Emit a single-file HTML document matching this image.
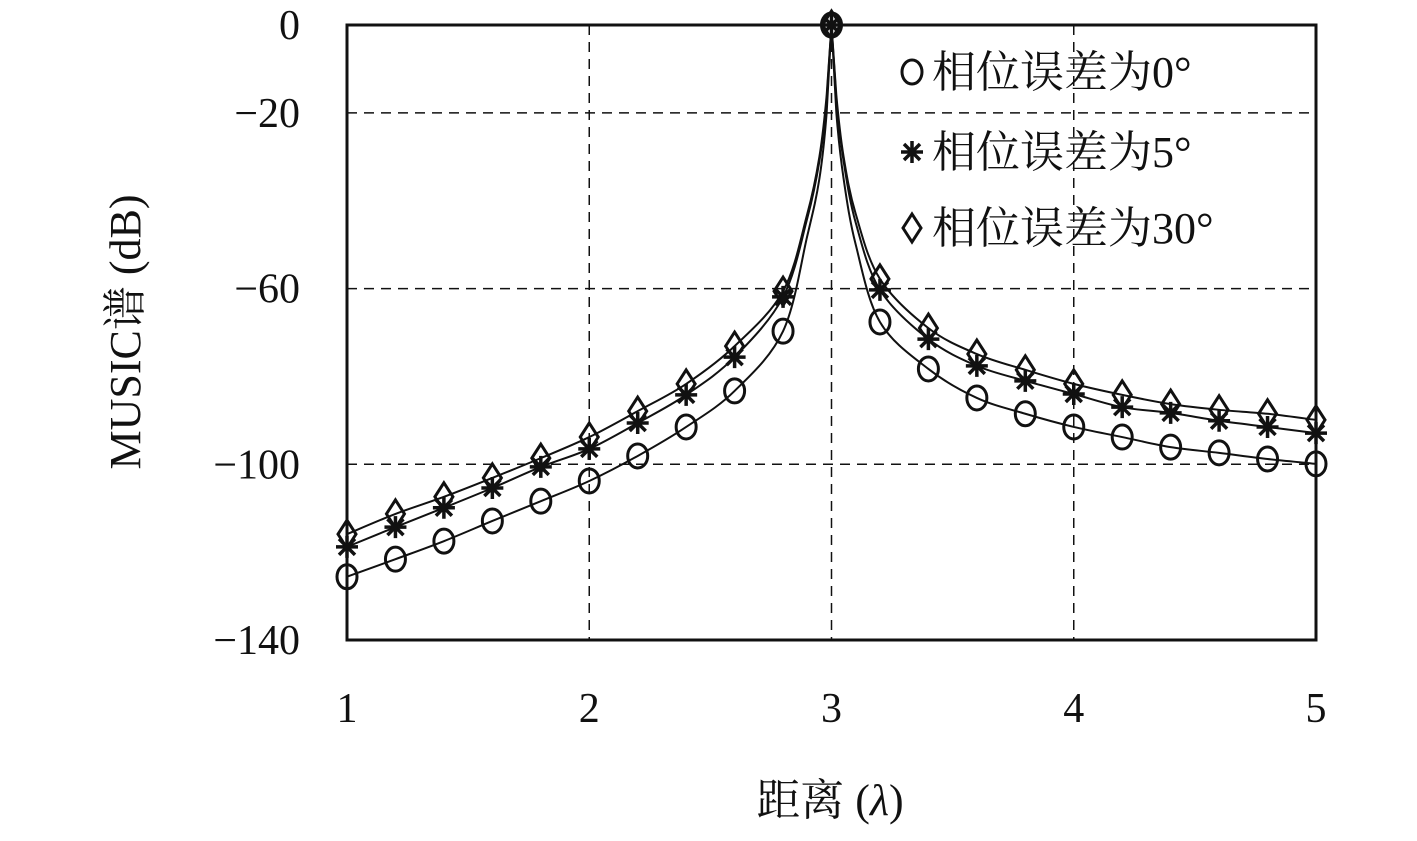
<!DOCTYPE html>
<html><head><meta charset="utf-8"><style>
body{margin:0;background:#fff}
svg text{font-family:"Liberation Serif","Noto Serif CJK SC",serif;fill:#111}
</style></head><body>
<svg id="chart" width="1417" height="836" xmlns="http://www.w3.org/2000/svg">
<g id="grid"></g>
<g id="series"></g>
<rect x="347" y="25" width="969" height="615" fill="none" stroke="#111" stroke-width="3"/>
<g id="ticks"></g>
<text x="830" y="815" font-size="44" text-anchor="middle">距离 (<tspan font-style="italic">λ</tspan>)</text>
<text transform="translate(140,332) rotate(-90)" font-size="44" text-anchor="middle">MUSIC谱 (dB)</text>
<g id="legend"></g>
</svg>
<script>
const xTicks=[1,2,3,4,5];
const yTicks=[0,-20,-60,-100,-140];
const yTickLabels=["0","−20","−60","−100","−140"];
const markerX=[1,1.2,1.4,1.6,1.8,2,2.2,2.4,2.6,2.8,3,3.2,3.4,3.6,3.8,4,4.2,4.4,4.6,4.8,5];
const err0=[-125.6,-121.6,-117.5,-112.9,-108.4,-103.8,-98.1,-91.5,-83.3,-69.7,0,-67.6,-78.3,-84.9,-88.5,-91.5,-93.8,-96.1,-97.4,-98.8,-99.9];
const err5=[-118.8,-114.3,-109.9,-105.4,-100.6,-96.5,-90.6,-84.2,-75.6,-61.9,0,-60.3,-71.5,-77.6,-81.0,-84.0,-87.0,-88.3,-90.1,-91.5,-92.9];
const err30=[-115.9,-111.3,-107.4,-103.1,-98.6,-93.8,-87.9,-81.7,-73.1,-60.6,0,-57.8,-69.0,-74.9,-78.5,-81.7,-84.2,-86.3,-87.6,-88.5,-89.9];
const peakX=[2.9,2.95,2.98,3.02,3.05,3.1];
const peak0=[-48,-35,-20,-20,-35,-50];
const peak5=[-44,-31,-17,-17,-31,-45];
const peak30=[-43,-30,-16,-16,-30,-43];
const seriesNames=["相位误差为0°","相位误差为5°","相位误差为30°"];

const X=v=>347+(v-1)*(1316-347)/4;
const Y=v=>25+(-v)*(640-25)/140;
const NS="http://www.w3.org/2000/svg";
function mk(tag,attrs,parent){const e=document.createElementNS(NS,tag);for(const k in attrs)e.setAttribute(k,attrs[k]);parent.appendChild(e);return e;}
const grid=document.getElementById('grid'),ticks=document.getElementById('ticks'),ser=document.getElementById('series'),leg=document.getElementById('legend');
xTicks.forEach(t=>{
 if(t>1&&t<5){const l=mk('line',{x1:X(t),x2:X(t),y1:25,y2:640,stroke:'#111','stroke-width':1.5,'stroke-dasharray':'10,7'},grid);
 
 }
 const tx=mk('text',{x:X(t),y:722,'font-size':42,'text-anchor':'middle'},ticks);tx.textContent=t;
 
 
});
yTicks.forEach((t,i)=>{
 if(t<0&&t>-140){const l=mk('line',{x1:347,x2:1316,y1:Y(t),y2:Y(t),stroke:'#111','stroke-width':1.5,'stroke-dasharray':'10,7'},grid);
 
 }
 const tx=mk('text',{x:300,y:Y(t)+14,'font-size':42,'text-anchor':'end'},ticks);tx.textContent=yTickLabels[i];
 
 
});
function curve(vals,pk){
 let pts=markerX.map((x,i)=>[x,vals[i]]).concat(peakX.map((x,i)=>[x,pk[i]])).sort((a,b)=>a[0]-b[0]).map(p=>[X(p[0]),Y(p[1])]);
 let d='M'+pts[0][0]+','+pts[0][1];
 for(let i=0;i<pts.length-1;i++){
  const p0=pts[i-1]||pts[i],p1=pts[i],p2=pts[i+1],p3=pts[i+2]||p2;
  const sharp=Math.abs(p1[0]-X(3))<1||Math.abs(p2[0]-X(3))<1;
  const k=sharp?0:1/6;
  d+=` C${p1[0]+(p2[0]-p0[0])*k},${p1[1]+(p2[1]-p0[1])*k} ${p2[0]-(p3[0]-p1[0])*k},${p2[1]-(p3[1]-p1[1])*k} ${p2[0]},${p2[1]}`;
 }
 return d;
}
function marker(type,cx,cy,parent){
 let g;
 if(type===0)g=mk('ellipse',{cx,cy,rx:10,ry:12,fill:'none',stroke:'#111','stroke-width':3},parent);
 else if(type===1){g=mk('path',{d:`M${cx-11},${cy}H${cx+11}M${cx},${cy-11}V${cy+11}M${cx-8},${cy-8}L${cx+8},${cy+8}M${cx-8},${cy+8}L${cx+8},${cy-8}`,stroke:'#111','stroke-width':3.5,fill:'none'},parent);}
 else g=mk('path',{d:`M${cx},${cy-14}L${cx+9},${cy}L${cx},${cy+14}L${cx-9},${cy}Z`,fill:'none',stroke:'#111','stroke-width':3},parent);
 return g;
}
[[err0,peak0],[err5,peak5],[err30,peak30]].forEach((s,si)=>{
 const p=mk('path',{d:curve(s[0],s[1]),fill:'none',stroke:'#111','stroke-width':2},ser);
 
 
 markerX.forEach((x,i)=>{
  const m=marker(si,X(x),Y(s[0][i]),ser);
  
  
 });
});
const legY=[72,152,228];
seriesNames.forEach((n,i)=>{
 const m=marker(i,912,legY[i],leg);
 
 
 const t=mk('text',{x:932,y:legY[i]+15,'font-size':44},leg);t.textContent=n;
 
 
});
</script>
</body></html>
